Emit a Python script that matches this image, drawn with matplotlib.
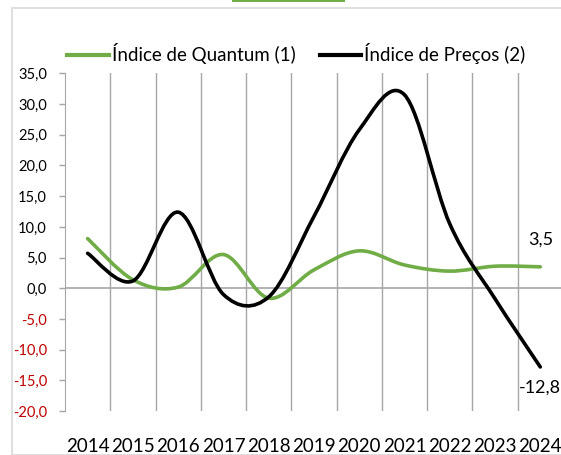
import numpy as np
import matplotlib
matplotlib.use("Agg")
import matplotlib.pyplot as plt
from matplotlib.path import Path
from matplotlib.patches import PathPatch, Rectangle
from matplotlib.lines import Line2D

plt.rcParams['font.family'] = ['Lato', 'DejaVu Sans']

years = ['2014', '2015', '2016', '2017', '2018', '2019', '2020', '2021', '2022', '2023', '2024']
quantum = [8.1, 1.4, 0.2, 5.5, -1.6, 3.0, 6.1, 3.8, 2.8, 3.6, 3.5]
precos = [5.7, 1.2, 12.4, -1.0, -1.4, 11.7, 25.8, 31.5, 10.5, -1.7, -12.8]
y_ticks = [35, 30, 25, 20, 15, 10, 5, 0, -5, -10, -15, -20]

GREEN = '#70AD47'
GRID = '#A6A6A6'


def smooth_path(xs, ys):
    # excel-like smoothed line: bezier segments, control points from neighbours
    pts = np.column_stack([xs, ys]).astype(float)
    n = len(pts)
    verts = [pts[0]]
    codes = [Path.MOVETO]
    for i in range(n - 1):
        p0 = pts[max(i - 1, 0)]
        p1 = pts[i]
        p2 = pts[i + 1]
        p3 = pts[min(i + 2, n - 1)]
        verts += [p1 + (p2 - p0) / 6, p2 - (p3 - p1) / 6, p2]
        codes += [Path.CURVE4] * 3
    return Path(verts, codes)


W, H = 561, 455
fig = plt.figure(figsize=(W / 100, H / 100), dpi=100)

# outer chart frame and green strip at the top
fig.patches.append(Rectangle((12 / W, 0), 1.2, (H - 7.5) / H, transform=fig.transFigure,
                             fill=False, edgecolor='#D9D9D9', linewidth=1.2))
fig.patches.append(Rectangle((232 / W, (H - 2) / H), 113 / W, 2 / H, transform=fig.transFigure,
                             facecolor=GREEN, edgecolor='none'))

ax = fig.add_axes([65 / W, (H - 411.2) / H, 497.9 / W, 337.9 / H])
ax.set_xlim(-0.5, 10.5)
ax.set_ylim(-20, 35)

x = np.arange(len(years))
ax.add_patch(PathPatch(smooth_path(x, quantum), fill=False, edgecolor=GREEN,
                       linewidth=2.6, capstyle='round', zorder=3))
ax.add_patch(PathPatch(smooth_path(x, precos), fill=False, edgecolor='black',
                       linewidth=2.6, capstyle='round', zorder=4))

# gridlines between categories
ax.set_xticks(x)
ax.set_xticklabels(years, fontsize=13.5)
ax.set_xticks(np.arange(0.5, 10, 1), minor=True)
ax.grid(True, axis='x', which='minor', color=GRID, linewidth=1)
ax.tick_params(axis='x', which='both', length=0, pad=19)
ax.axhline(0, color=GRID, linewidth=1.2, zorder=2)

ax.set_yticks(y_ticks)
ax.set_yticklabels([f'{v:.1f}'.replace('.', ',') for v in y_ticks], fontsize=10.5)
for lab, v in zip(ax.get_yticklabels(), y_ticks):
    lab.set_color('#C00000' if v < 0 else 'black')
ax.tick_params(axis='y', length=4, width=1, color=GRID, pad=9)

for s in ['top', 'right', 'bottom']:
    ax.spines[s].set_visible(False)
ax.spines['left'].set_color(GRID)

ax.annotate('3,5', (10, quantum[-1]), xytext=(0, 27), textcoords='offset pixels',
            ha='center', va='center', fontsize=13)
ax.annotate('-12,8', (10, precos[-1]), xytext=(0, -21), textcoords='offset pixels',
            ha='center', va='center', fontsize=13)

handles = [Line2D([], [], color=GREEN, linewidth=3), Line2D([], [], color='black', linewidth=3)]
fig.legend(handles, ['Índice de Quantum (1)', 'Índice de Preços (2)'], ncol=2,
           loc='center left', bbox_to_anchor=(50.5 / W, (H - 54) / H), frameon=False,
           fontsize=13.5, handlelength=2.2, handletextpad=0.16, columnspacing=1.3)

fig.savefig('out.png', dpi=100)
